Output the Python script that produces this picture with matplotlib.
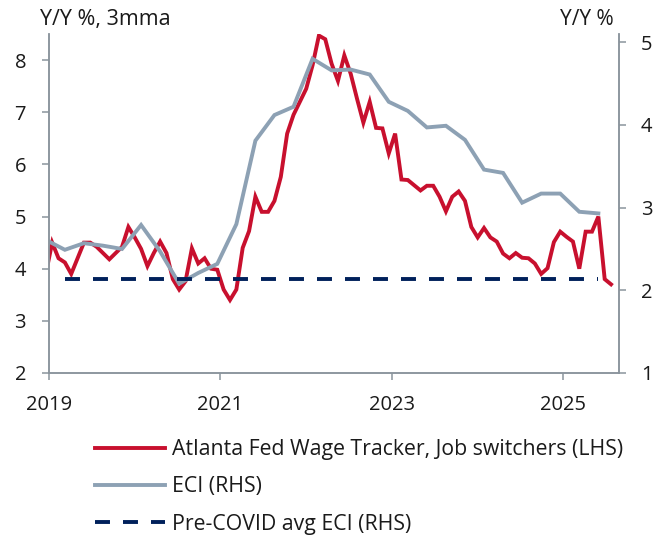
"""
Atlanta Fed wage tracker (job switchers) vs ECI, dual axis line chart.
"""

import numpy as np
import matplotlib
matplotlib.use("Agg")
import matplotlib.pyplot as plt
from matplotlib.lines import Line2D

plt.rcParams["font.family"] = ["Open Sans", "DejaVu Sans"]

# ---------------------------------------------------------------------------
# Data (monthly wage tracker on LHS, quarterly ECI on RHS)
# ---------------------------------------------------------------------------

wage_tracker = [
    3.9, 4.5, 4.2, 4.12, 3.9, 4.2, 4.5, 4.5, 4.42, 4.3,
    4.18, 4.3, 4.42, 4.8, 4.6, 4.38, 4.05, 4.3, 4.52, 4.3,
    3.8, 3.6, 3.76, 4.39, 4.1, 4.2, 4.0, 3.98, 3.6, 3.4,
    3.6, 4.4, 4.72, 5.38, 5.09, 5.09, 5.3, 5.76, 6.59, 6.95,
    7.2, 7.45, 7.9, 8.47, 8.4, 7.93, 7.6, 8.09, 7.74, 7.26,
    6.8, 7.2, 6.7, 6.69, 6.21, 6.59, 5.71, 5.7, 5.6, 5.5,
    5.59, 5.59, 5.38, 5.1, 5.38, 5.48, 5.3, 4.8, 4.6, 4.78,
    4.6, 4.52, 4.29, 4.2, 4.3, 4.21, 4.2, 4.1, 3.9, 4.01,
    4.51, 4.71, 4.61, 4.52, 4.0, 4.71, 4.71, 5.0, 3.8, 3.7,
]

eci = [
    2.61, 2.49, 2.57, 2.54, 2.50, 2.79, 2.47, 2.08, 2.21, 2.32,
    2.80, 3.81, 4.12, 4.22, 4.80, 4.66, 4.67, 4.61, 4.28, 4.17,
    3.97, 3.99, 3.82, 3.46, 3.42, 3.06, 3.17, 3.17, 2.95, 2.93,
]

precovid_avg_eci = 2.14

tick_pos    = [0.5, 27.5, 54.5, 81.5]
tick_labels = ["2019", "2021", "2023", "2025"]

labels = [
    "Atlanta Fed Wage Tracker, Job switchers (LHS)",
    "ECI (RHS)",
    "Pre-COVID avg ECI (RHS)",
]

# x positions: monthly index; ECI sits on every third month
x_wage = np.arange(len(wage_tracker))
x_eci = np.arange(0, len(wage_tracker), 3)[: len(eci)]
x_avg = x_eci[1:]

# ---------------------------------------------------------------------------
# Style
# ---------------------------------------------------------------------------

RED   = "#C8102E"
GREY  = "#8DA1B4"
NAVY  = "#00205B"
AXIS  = "#8A949C"
TEXT  = "#1A1A1A"
LW    = 2.8
FS    = 14.5
FS_LEG = 15.3

fig = plt.figure(figsize=(6.65, 5.42), dpi=100)
ax = fig.add_axes([49 / 665, 169 / 542, 570.3 / 665, 339 / 542])
ax2 = ax.twinx()

ax.plot(x_wage, wage_tracker, color=RED, lw=LW, solid_joinstyle="miter")
ax2.plot(x_eci, eci, color=GREY, lw=LW, solid_joinstyle="miter")
ax2.plot(x_avg, np.full(len(x_avg), precovid_avg_eci), color=NAVY, lw=LW,
         dashes=(3.85, 3.35))

ax.set_xlim(0.5, 90.3)
ax.set_ylim(2, 8.5)
ax2.set_ylim(1, 5.1)

ax.set_xticks(tick_pos)
ax.set_xticklabels(tick_labels)
ax.set_yticks([2, 3, 4, 5, 6, 7, 8])
ax2.set_yticks([1, 2, 3, 4, 5])

for a in (ax, ax2):
    a.spines["top"].set_visible(False)
    for s in ("left", "right", "bottom"):
        a.spines[s].set_color(AXIS)
        a.spines[s].set_linewidth(1.1)

ax.tick_params(axis="y", length=5, width=1.1, color=AXIS, labelsize=FS,
               labelcolor=TEXT, pad=11.5)
ax.tick_params(axis="x", length=5, width=1.1, color=AXIS, labelsize=FS,
               labelcolor=TEXT, pad=10.5)
ax2.tick_params(axis="y", length=5, width=1.1, color=AXIS, labelsize=FS,
                labelcolor=TEXT, pad=10.5)

fig.text(40 / 665, 1 - 25 / 542, "Y/Y %, 3mma", fontsize=15.5, color=TEXT,
         ha="left", va="baseline")
fig.text(614 / 665, 1 - 25 / 542, "Y/Y %", fontsize=15, color=TEXT,
         ha="right", va="baseline")

handles = [
    Line2D([], [], color=RED, lw=LW),
    Line2D([], [], color=GREY, lw=LW),
    Line2D([], [], color=NAVY, lw=LW, dashes=(3.85, 3.35)),
]
fig.legend(handles, labels, loc="upper left",
           bbox_to_anchor=(95 / 665, 1 - 439 / 542),
           frameon=False, fontsize=FS_LEG, handlelength=3.3, handletextpad=0.33,
           labelspacing=0.77, borderpad=0, borderaxespad=0, labelcolor=TEXT)

fig.savefig("out.png", dpi=100, facecolor="white")
